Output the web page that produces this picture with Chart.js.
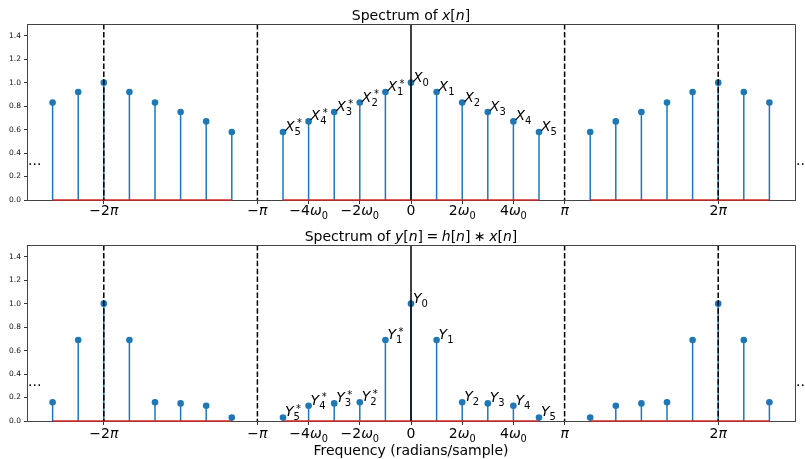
<!DOCTYPE html>
<html>
<head>
<meta charset="utf-8">
<script src="https://cdn.jsdelivr.net/npm/chart.js@4.4.1/dist/chart.umd.min.js"></script>
<style>
body { margin: 0; background: #fff; }
#wrap { position: relative; width: 805px; height: 459px; }
canvas { position: absolute; left: 0; }
</style>
</head>
<body>
<div id="wrap">
<canvas id="top" width="805" height="230" style="top:0"></canvas>
<canvas id="bottom" width="805" height="229" style="top:230px"></canvas>
</div>
<script>
const PI = Math.PI;
const w0 = PI / 6;

// harmonic index k, frequency = k * w0, for the three copies of the spectrum
const kLeft = [-14, -13, -12, -11, -10, -9, -8, -7];
const kMid = [-5, -4, -3, -2, -1, 0, 1, 2, 3, 4, 5];
const kRight = [7, 8, 9, 10, 11, 12, 13, 14];

// |X_k|
const xLeft = [0.83, 0.92, 1.0, 0.92, 0.83, 0.75, 0.67, 0.58];
const xMid = [0.58, 0.67, 0.75, 0.83, 0.92, 1.0, 0.92, 0.83, 0.75, 0.67, 0.58];
const xRight = [0.58, 0.67, 0.75, 0.83, 0.92, 1.0, 0.92, 0.83];

// |Y_k|
const yLeft = [0.16, 0.69, 1.0, 0.69, 0.16, 0.15, 0.13, 0.03];
const yMid = [0.03, 0.13, 0.15, 0.16, 0.69, 1.0, 0.69, 0.16, 0.15, 0.13, 0.03];
const yRight = [0.03, 0.13, 0.15, 0.16, 0.69, 1.0, 0.69, 0.16];

const xNames = ['X5*', 'X4*', 'X3*', 'X2*', 'X1*', 'X0', 'X1', 'X2', 'X3', 'X4', 'X5'];
const yNames = ['Y5*', 'Y4*', 'Y3*', 'Y2*', 'Y1*', 'Y0', 'Y1', 'Y2', 'Y3', 'Y4', 'Y5'];

const xTicks = [-2 * PI, -PI, -4 * w0, -2 * w0, 0, 2 * w0, 4 * w0, PI, 2 * PI];
const xTickLabels = [
  [['−2', ''], ['π', 'i']],
  [['−', ''], ['π', 'i']],
  [['−4', ''], ['ω', 'i'], ['0', 'sub']],
  [['−2', ''], ['ω', 'i'], ['0', 'sub']],
  [['0', '']],
  [['2', ''], ['ω', 'i'], ['0', 'sub']],
  [['4', ''], ['ω', 'i'], ['0', 'sub']],
  [['π', 'i']],
  [['2', ''], ['π', 'i']]
];
const yTicks = [0, 0.2, 0.4, 0.6, 0.8, 1.0, 1.2, 1.4];
const dashedAt = [-2 * PI, -PI, PI, 2 * PI];

const titleX = [['Spectrum of ', ''], ['x', 'i'], ['[', ''], ['n', 'i'], [']', '']];
const titleY = [['Spectrum of ', ''], ['y', 'i'], ['[', ''], ['n', 'i'], [']', ''], ['\u2005=\u2005', ''],
  ['h', 'i'], ['[', ''], ['n', 'i'], [']', ''], ['\u2005∗\u2005', ''], ['x', 'i'], ['[', ''], ['n', 'i'], [']', '']];
const xAxisTitle = 'Frequency (radians/sample)';

const FONT = '"DejaVu Sans"';
const BLUE = '#1f77b4';

function partFont(style, size) {
  if (style === 'i') return 'italic ' + size + 'px ' + FONT;
  if (style === 'sub') return (size * 0.7) + 'px ' + FONT;
  return size + 'px ' + FONT;
}

function drawMath(ctx, parts, x, y, size, center) {
  ctx.save();
  ctx.textBaseline = 'alphabetic';
  ctx.textAlign = 'left';
  ctx.fillStyle = '#000';
  if (center) {
    let w = 0;
    parts.forEach(p => { ctx.font = partFont(p[1], size); w += ctx.measureText(p[0]).width; });
    x -= w / 2;
  }
  parts.forEach(p => {
    ctx.font = partFont(p[1], size);
    let dy = p[1] === 'sub' ? size * 0.28 : 0;
    ctx.fillText(p[0], x, y + dy);
    x += ctx.measureText(p[0]).width;
  });
  ctx.restore();
}

// name like 'X5*' -> italic letter, subscript digit, optional superscript star
function drawName(ctx, name, x, y) {
  ctx.save();
  ctx.fillStyle = '#000';
  ctx.textAlign = 'left';
  ctx.textBaseline = 'alphabetic';
  ctx.font = 'italic 14px ' + FONT;
  ctx.fillText(name[0], x, y);
  let lw = ctx.measureText(name[0]).width;
  ctx.font = '10px ' + FONT;
  ctx.fillText(name[1], x + lw, y + 4);
  if (name[2] === '*') ctx.fillText('*', x + lw + 2.5, y - 4.5);
  ctx.restore();
}

const stemPlugin = {
  id: 'stems',
  beforeDatasetsDraw(chart) {
    const { ctx, chartArea: a, scales: { x, y } } = chart;
    ctx.save();
    ctx.beginPath();
    ctx.rect(a.left, a.top, a.right - a.left, a.bottom - a.top + 1);
    ctx.clip();
    chart.data.datasets.forEach(ds => {
      const pts = ds.data;
      const y0 = y.getPixelForValue(0);
      ctx.lineWidth = 1.5;
      ctx.strokeStyle = BLUE;
      pts.forEach(p => {
        const px = x.getPixelForValue(p.x);
        ctx.beginPath();
        ctx.moveTo(px, y0);
        ctx.lineTo(px, y.getPixelForValue(p.y));
        ctx.stroke();
      });
      ctx.strokeStyle = '#d62728';
      ctx.beginPath();
      ctx.moveTo(x.getPixelForValue(pts[0].x), y0);
      ctx.lineTo(x.getPixelForValue(pts[pts.length - 1].x), y0);
      ctx.stroke();
    });
    ctx.restore();
  },
  afterDatasetsDraw(chart, args, opts) {
    const { ctx, chartArea: a, scales: { x, y } } = chart;
    ctx.save();
    ctx.lineWidth = 1.5;
    ctx.strokeStyle = '#000';
    ctx.setLineDash([5.5, 2.4]);
    dashedAt.forEach(v => {
      const px = x.getPixelForValue(v);
      ctx.beginPath();
      ctx.moveTo(px, a.top);
      ctx.lineTo(px, a.bottom);
      ctx.stroke();
    });
    ctx.setLineDash([]);
    const zx = x.getPixelForValue(0);
    ctx.beginPath();
    ctx.moveTo(zx, a.top);
    ctx.lineTo(zx, a.bottom);
    ctx.stroke();

    // top and right spines (left/bottom come from the axes)
    ctx.lineWidth = 1;
    ctx.strokeStyle = '#444';
    ctx.beginPath();
    ctx.moveTo(a.left, Math.round(a.top) + 0.5);
    ctx.lineTo(Math.round(a.right) + 0.5, Math.round(a.top) + 0.5);
    ctx.lineTo(Math.round(a.right) + 0.5, a.bottom);
    ctx.stroke();

    // point names on the central copy
    const mid = chart.data.datasets[1].data;
    opts.names.forEach((n, i) => {
      drawName(ctx, n, x.getPixelForValue(mid[i].x) + 2, y.getPixelForValue(mid[i].y) - 1);
    });

    // periodic continuation dots
    ctx.fillStyle = '#000';
    ctx.font = '14px ' + FONT;
    ctx.textAlign = 'left';
    ctx.textBaseline = 'alphabetic';
    ctx.fillText('...', x.getPixelForValue(-2.5 * PI) + 1, y.getPixelForValue(0.3));
    ctx.fillText('...', x.getPixelForValue(2.5 * PI) + 1, y.getPixelForValue(0.3));

    // x tick labels
    xTicks.forEach((v, i) => {
      drawMath(ctx, xTickLabels[i], x.getPixelForValue(v), a.bottom + opts.tickDy, 14, true);
    });

    drawMath(ctx, opts.title, (a.left + a.right) / 2, opts.titleY, 14, true);
    if (opts.xlabel) drawMath(ctx, [[opts.xlabel, '']], (a.left + a.right) / 2, opts.xlabelY, 14, true);
    ctx.restore();
  }
};

function makeChart(id, vals, names, title, padTop, axisH, extra) {
  const groups = [[kLeft, vals[0]], [kMid, vals[1]], [kRight, vals[2]]];
  return new Chart(document.getElementById(id), {
    type: 'scatter',
    data: {
      datasets: groups.map(g => ({
        data: g[0].map((k, i) => ({ x: k * w0, y: g[1][i] })),
        backgroundColor: BLUE,
        borderColor: BLUE,
        borderWidth: 0,
        pointRadius: 3.3,
        pointHoverRadius: 3.3
      }))
    },
    options: {
      responsive: false,
      animation: false,
      events: [],
      layout: { padding: { top: padTop, right: 10, left: 0, bottom: 0 } },
      plugins: {
        legend: { display: false },
        tooltip: { enabled: false },
        stems: Object.assign({ names: names, title: title }, extra)
      },
      scales: {
        x: {
          type: 'linear',
          min: -2.5 * PI,
          max: 2.5 * PI,
          afterBuildTicks: s => { s.ticks = xTicks.map(v => ({ value: v })); },
          afterFit: s => { s.height = axisH; },
          ticks: { display: false },
          grid: { drawOnChartArea: false, drawTicks: true, tickLength: 4, color: '#333' },
          border: { color: '#444', width: 1 }
        },
        y: {
          min: 0,
          max: 1.5,
          afterBuildTicks: s => { s.ticks = yTicks.map(v => ({ value: v })); },
          afterFit: s => { s.width = 27; },
          ticks: {
            font: { family: 'DejaVu Sans', size: 7.5 },
            color: '#111',
            padding: 3,
            callback: v => v.toFixed(1)
          },
          grid: { drawOnChartArea: false, tickLength: 3, color: '#333' },
          border: { color: '#444', width: 1 }
        }
      }
    },
    plugins: [stemPlugin]
  });
}

makeChart('top', [xLeft, xMid, xRight], xNames, titleX, 24, 30, { tickDy: 15, titleY: 20 });
makeChart('bottom', [yLeft, yMid, yRight], yNames, titleY, 15, 38,
  { tickDy: 17, titleY: 11, xlabel: xAxisTitle, xlabelY: 225 });
</script>
</body>
</html>
